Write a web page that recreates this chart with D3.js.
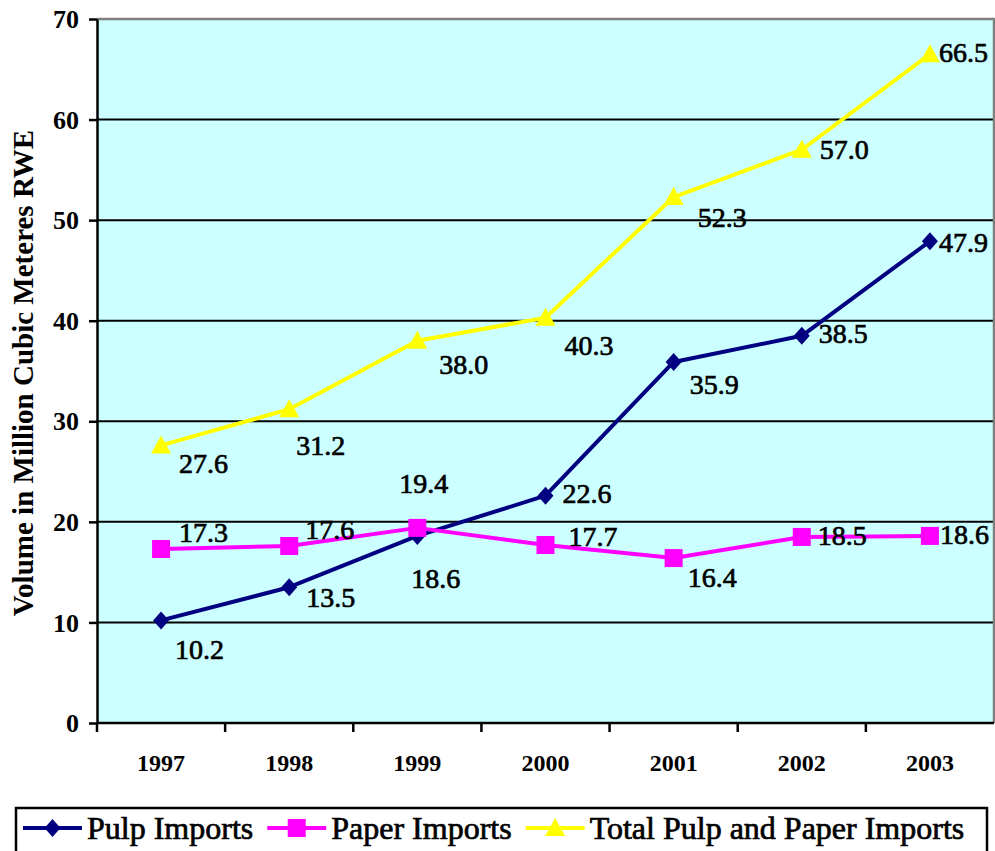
<!DOCTYPE html>
<html>
<head>
<meta charset="utf-8">
<script src="https://cdn.jsdelivr.net/npm/d3@7/dist/d3.min.js"></script>
</head>
<body style="margin:0;padding:0;background:#ffffff">
<svg id="chart" width="995" height="851" style="display:block"></svg>
<script>
// Import volumes, million cubic metres RWE
const years = ["1997", "1998", "1999", "2000", "2001", "2002", "2003"];
const pulpImports = [10.2, 13.5, 18.6, 22.6, 35.9, 38.5, 47.9];
const paperImports = [17.3, 17.6, 19.4, 17.7, 16.4, 18.5, 18.6];
const totalImports = [27.6, 31.2, 38.0, 40.3, 52.3, 57.0, 66.5];
const yTicks = [0, 10, 20, 30, 40, 50, 60, 70];
const seriesNames = ["Pulp Imports", "Paper Imports", "Total Pulp and Paper Imports"];

// Value-label placement (offset of label start / baseline from its point)
const pulpLabelOffsets = [[14, 39], [17, 20], [-6, 52], [17, 7], [16, 32], [17, 7], [9, 11]];
const paperLabelOffsets = [[18, -7], [16, -7], [-18, -35], [23, 1], [14, 29], [16, 8], [10, 8]];
const totalLabelOffsets = [[18, 28], [7, 46], [22, 33], [19, 37], [24, 30], [18, 9], [9, 8]];

const FONT = '"Liberation Serif", "Times New Roman", Times, serif';

const series = [
  { name: seriesNames[0], values: pulpImports, color: "#000080", marker: "diamond", offsets: pulpLabelOffsets },
  { name: seriesNames[1], values: paperImports, color: "#FF00FF", marker: "square", offsets: paperLabelOffsets },
  { name: seriesNames[2], values: totalImports, color: "#FFFF00", marker: "triangle", offsets: totalLabelOffsets }
];

const svg = d3.select("#chart").style("font-family", FONT);
const plot = { left: 97, right: 994, top: 19, bottom: 723 };

const x = d3.scaleBand().domain(years).range([plot.left, plot.right]).padding(0);
const y = d3.scaleLinear().domain([0, 70]).range([plot.bottom, plot.top]);
const cx = d => x(d) + x.bandwidth() / 2;

// Plot background
svg.append("rect")
  .attr("x", plot.left).attr("y", plot.top)
  .attr("width", plot.right - plot.left).attr("height", plot.bottom - plot.top)
  .attr("fill", "#CCFFFF");

// Horizontal gridlines
svg.append("g").selectAll("line")
  .data(yTicks.filter(t => t > 0 && t < 70))
  .join("line")
  .attr("x1", plot.left).attr("x2", plot.right)
  .attr("y1", d => y(d)).attr("y2", d => y(d))
  .attr("stroke", "#000").attr("stroke-width", 2);

// Plot border (top and right)
svg.append("path")
  .attr("d", `M${plot.left},${y(70)}H${plot.right}V${plot.bottom}`)
  .attr("fill", "none").attr("stroke", "#808080").attr("stroke-width", 2.5);

// Y axis
const yAxis = svg.append("g")
  .attr("transform", `translate(${plot.left},0)`)
  .call(d3.axisLeft(y).tickValues(yTicks).tickSize(8).tickSizeOuter(0).tickPadding(10));
yAxis.attr("font-family", null).attr("font-size", null);
yAxis.select(".domain").attr("stroke", "#000").attr("stroke-width", 2.5);
yAxis.selectAll(".tick line").attr("stroke", "#000").attr("stroke-width", 2.5);
yAxis.selectAll(".tick text")
  .style("font-family", FONT)
  .attr("font-size", 26).attr("font-weight", "bold").attr("fill", "#000")
  .attr("dy", "0.33em");

// X axis: ticks between categories, year labels centred in each band
const xAxis = svg.append("g")
  .attr("transform", `translate(0,${plot.bottom})`);
xAxis.append("line")
  .attr("x1", plot.left).attr("x2", plot.right)
  .attr("y1", 0).attr("y2", 0)
  .attr("stroke", "#000").attr("stroke-width", 2.5);
const boundaries = years.map(d => x(d));
xAxis.selectAll("line.tick")
  .data(boundaries)
  .join("line").attr("class", "tick")
  .attr("x1", d => d).attr("x2", d => d)
  .attr("y1", 0).attr("y2", 9)
  .attr("stroke", "#000").attr("stroke-width", 2.5);
xAxis.selectAll("text")
  .data(years)
  .join("text")
  .attr("x", d => cx(d)).attr("y", 48)
  .attr("text-anchor", "middle")
  .style("font-family", FONT)
  .attr("font-size", 24).attr("font-weight", "bold").attr("fill", "#000")
  .text(d => d);

// Y axis title
svg.append("text")
  .attr("transform", "translate(33,373) rotate(-90)")
  .attr("text-anchor", "middle")
  .style("font-family", FONT)
  .attr("font-size", 29).attr("font-weight", "bold").attr("fill", "#000")
  .text("Volume in Million Cubic Meteres RWE");

// Marker shapes
function markerPath(type) {
  if (type === "diamond") return "M0,-9L8,0L0,9L-8,0Z";
  if (type === "square") return "M-9,-9H9V9H-9Z";
  return "M0,-10L10,8H-10Z";
}

// Lines and markers
const line = d3.line().x((d, i) => cx(years[i])).y(d => y(d));
series.forEach(s => {
  const g = svg.append("g");
  g.append("path")
    .datum(s.values)
    .attr("d", line)
    .attr("fill", "none").attr("stroke", s.color).attr("stroke-width", 4)
    .attr("stroke-linejoin", "round");
  g.selectAll("path.mark")
    .data(s.values)
    .join("path").attr("class", "mark")
    .attr("transform", (d, i) => `translate(${cx(years[i])},${y(d)})`)
    .attr("d", markerPath(s.marker))
    .attr("fill", s.color);
});

// Value labels (slightly heavier than regular weight)
series.forEach(s => {
  svg.append("g").selectAll("text")
    .data(s.values)
    .join("text")
    .attr("x", (d, i) => cx(years[i]) + s.offsets[i][0])
    .attr("y", (d, i) => y(d) + s.offsets[i][1])
    .style("font-family", FONT)
    .attr("font-size", 28).attr("fill", "#000")
    .attr("stroke", "#000").attr("stroke-width", 0.7)
    .text(d => d.toFixed(1));
});

// Legend
const legend = svg.append("g");
legend.append("rect")
  .attr("x", 16).attr("y", 808).attr("width", 971).attr("height", 60)
  .attr("fill", "#fff").attr("stroke", "#000").attr("stroke-width", 2.5);
let lx = 23;
series.forEach(s => {
  const g = legend.append("g");
  g.append("line")
    .attr("x1", lx).attr("x2", lx + 59)
    .attr("y1", 828).attr("y2", 828)
    .attr("stroke", s.color).attr("stroke-width", 4);
  g.append("path")
    .attr("transform", `translate(${lx + 29.5},828)`)
    .attr("d", markerPath(s.marker))
    .attr("fill", s.color);
  const t = g.append("text")
    .attr("x", lx + 64).attr("y", 839)
    .style("font-family", FONT)
    .attr("font-size", 32).attr("fill", "#000")
    .attr("stroke", "#000").attr("stroke-width", 0.7)
    .text(s.name);
  lx += 64 + t.node().getComputedTextLength() + 14;
});
</script>
</body>
</html>
